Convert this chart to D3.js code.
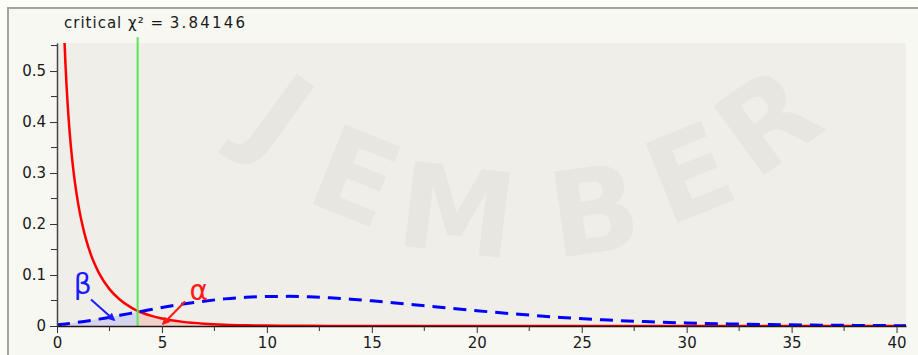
<!DOCTYPE html>
<html>
<head>
<meta charset="utf-8">
<script src="https://cdn.jsdelivr.net/npm/d3@7"></script>
<style>
  body { margin: 0; background: #fdfdf7; }
  svg { display: block; font-family: 'DejaVu Sans', Verdana, sans-serif; }
</style>
</head>
<body>
<svg id="canvas" width="918" height="355"></svg>
<script>
// central chi-square (H0, df = 1)
let redX = [0.35, 0.4, 0.5, 0.6, 0.7, 0.8, 0.9, 1.0, 1.1, 1.2, 1.4, 1.6, 1.8, 2.0, 2.5, 3.0, 3.5, 3.84146, 4.0, 4.5, 5.0, 6.0, 7.0, 8.0, 9.0, 10, 12, 14, 16, 20, 30, 40.45]
let redY = [0.566, 0.5165, 0.4394, 0.3815, 0.336, 0.299, 0.2681, 0.242, 0.2194, 0.1999, 0.1674, 0.1417, 0.1209, 0.1038, 0.0723, 0.0514, 0.0371, 0.0298, 0.027, 0.0198, 0.0146, 0.0081, 0.0046, 0.0026, 0.0015, 0.00085, 0.00029, 0.0001, 0.00003, 0, 0, 0]

// noncentral chi-square (H1)
let blueX = [0, 0.5, 1, 2, 3, 3.84146, 4, 5, 6, 7, 8, 9, 10, 11, 12, 13, 14, 15, 16, 17, 18, 19, 20, 22, 24, 26, 28, 30, 32, 34, 36, 38, 40, 40.45]
let blueY = [0.0025, 0.0046, 0.0072, 0.0135, 0.0209, 0.0274, 0.0286, 0.0362, 0.043, 0.0487, 0.0532, 0.0562, 0.0578, 0.0581, 0.0572, 0.0553, 0.0526, 0.0493, 0.0457, 0.0417, 0.0378, 0.0338, 0.03, 0.023, 0.0168, 0.0121, 0.0086, 0.006, 0.0041, 0.0027, 0.0018, 0.0012, 0.0007, 0.0006]

let critical = 3.84146

let xMajor = [0, 5, 10, 15, 20, 25, 30, 35, 40]
let xMinor = [2.5, 7.5, 12.5, 17.5, 22.5, 27.5, 32.5, 37.5]
let yMajor = [0, 0.1, 0.2, 0.3, 0.4, 0.5]
let yMinor = [0.05, 0.15, 0.25, 0.35, 0.45, 0.55]
let yTickLabels = ['0', '0.1', '0.2', '0.3', '0.4', '0.5']

// greek labels + arrows, in data units
let greekLabels = ['β', 'α']
let labelX = [1.22, 6.75]
let labelY = [0.082, 0.07]
let arrowFromX = [1.62, 6.1]
let arrowFromY = [0.052, 0.048]
let arrowToX = [2.72, 5.05]
let arrowToY = [0.012, 0.004]

let watermark = ['J', 'E', 'M', 'B', 'E', 'R']
let wmX = [255, 340, 452, 600, 705, 792]
let wmY = [150, 215, 252, 252, 212, 155]
let wmRot = [36, 22, 7, -8, -22, -36]

let canvas = d3.select('#canvas')

let plotLeft = 57, plotRight = 906, plotTop = 43, plotBottom = 326

let x = d3.scaleLinear().domain([0, 40.45]).range([plotLeft, plotRight])
let y = d3.scaleLinear().domain([0, 0.555]).range([plotBottom, plotTop])

let red = redX.map((d, i) => ({x: d, y: redY[i]}))
let blue = blueX.map((d, i) => ({x: d, y: blueY[i]}))

// frame
canvas.append('rect')
    .attr('x', 8).attr('y', 8).attr('width', 930).attr('height', 360)
    .attr('fill', '#f8f8f3')
    .attr('stroke', '#a3a3a0')
    .attr('stroke-width', 2)

canvas.append('rect')
    .attr('x', plotLeft).attr('y', plotTop)
    .attr('width', plotRight - plotLeft).attr('height', plotBottom - plotTop)
    .attr('fill', '#efeee9')

// faint watermark
canvas.append('g').selectAll('text')
    .data(watermark)
    .enter()
    .append('text')
    .attr('transform', (d, i) => `translate(${wmX[i]},${wmY[i]}) rotate(${wmRot[i]})`)
    .attr('text-anchor', 'middle')
    .attr('font-size', 118)
    .attr('font-weight', 'bold')
    .attr('fill', '#000')
    .attr('fill-opacity', 0.03)
    .text(d => d)

canvas.append('clipPath').attr('id', 'clip')
    .append('rect')
    .attr('x', plotLeft).attr('y', plotTop)
    .attr('width', plotRight - plotLeft).attr('height', plotBottom - plotTop)

let plot = canvas.append('g').attr('clip-path', 'url(#clip)')

let area = d3.area()
    .x(d => x(d.x))
    .y0(y(0))
    .y1(d => y(d.y))
    .curve(d3.curveMonotoneX)

let line = d3.line()
    .x(d => x(d.x))
    .y(d => y(d.y))
    .curve(d3.curveMonotoneX)

plot.append('path')
    .datum(blue.filter(d => d.x <= critical))
    .attr('d', area)
    .attr('fill', '#7070ff')
    .attr('fill-opacity', 0.2)

plot.append('path')
    .datum(red.filter(d => d.x >= critical))
    .attr('d', area)
    .attr('fill', '#ff6a5a')
    .attr('fill-opacity', 0.22)

plot.append('path')
    .datum(red)
    .attr('d', line)
    .attr('fill', 'none')
    .attr('stroke', '#ff0000')
    .attr('stroke-width', 2.5)

plot.append('path')
    .datum(blue)
    .attr('d', line)
    .attr('fill', 'none')
    .attr('stroke', '#0000ff')
    .attr('stroke-width', 3)
    .attr('stroke-dasharray', '13,8')

// critical value line
canvas.append('line')
    .attr('x1', x(critical)).attr('x2', x(critical))
    .attr('y1', plotTop - 6).attr('y2', y(0))
    .attr('stroke', '#55e855')
    .attr('stroke-width', 2)

let title = canvas.append('text')
    .attr('x', 64).attr('y', 28)
    .attr('font-size', 15)
    .attr('letter-spacing', 1)
    .attr('fill', '#1a1a1a')
    .style('white-space', 'pre')
title.append('tspan').text('critical χ² = ')
title.append('tspan').attr('letter-spacing', 2.2).text(critical)

// axes
let xAxis = canvas.append('g')
    .attr('transform', `translate(0,${plotBottom})`)
    .call(d3.axisBottom(x).tickValues(xMajor).tickSize(7).tickSizeOuter(0).tickPadding(4).tickFormat(d3.format('d')))
xAxis.select('.domain').attr('stroke', '#2a1010').attr('stroke-width', 1.5)

xAxis.selectAll('.minor')
    .data(xMinor)
    .enter()
    .append('line')
    .attr('class', 'minor')
    .attr('x1', d => x(d)).attr('x2', d => x(d))
    .attr('y1', 0).attr('y2', 5)
    .attr('stroke', '#333')

let yAxis = canvas.append('g')
    .attr('transform', `translate(${plotLeft},0)`)
    .call(d3.axisLeft(y).tickValues(yMajor).tickSize(7).tickSizeOuter(0).tickPadding(4).tickFormat((d, i) => yTickLabels[i]))
yAxis.select('.domain').attr('stroke', '#444').attr('stroke-width', 1.5)

yAxis.selectAll('.minor')
    .data(yMinor)
    .enter()
    .append('line')
    .attr('class', 'minor')
    .attr('x1', -6).attr('x2', 0)
    .attr('y1', d => y(d)).attr('y2', d => y(d))
    .attr('stroke', '#333')

canvas.selectAll('.tick line').attr('stroke', '#333')
canvas.selectAll('.tick text')
    .attr('font-size', 15)
    .attr('font-family', "'DejaVu Sans', Verdana, sans-serif")
    .attr('fill', '#1a1a1a')

// beta / alpha annotations
let colors = ['#1a1aff', '#ff1a1a']

canvas.append('defs').selectAll('marker')
    .data(colors)
    .enter()
    .append('marker')
    .attr('id', (d, i) => 'head' + i)
    .attr('viewBox', '0 0 10 10')
    .attr('refX', 8).attr('refY', 5)
    .attr('markerWidth', 4).attr('markerHeight', 4)
    .attr('orient', 'auto')
    .append('path')
    .attr('d', 'M0,0L10,5L0,10z')
    .attr('fill', d => d)

canvas.append('g').selectAll('line')
    .data(greekLabels)
    .enter()
    .append('line')
    .attr('x1', (d, i) => x(arrowFromX[i]))
    .attr('y1', (d, i) => y(arrowFromY[i]))
    .attr('x2', (d, i) => x(arrowToX[i]))
    .attr('y2', (d, i) => y(arrowToY[i]))
    .attr('stroke', (d, i) => colors[i])
    .attr('stroke-width', 2)
    .attr('marker-end', (d, i) => `url(#head${i})`)

canvas.append('g').selectAll('text')
    .data(greekLabels)
    .enter()
    .append('text')
    .attr('x', (d, i) => x(labelX[i]))
    .attr('y', (d, i) => y(labelY[i]))
    .attr('text-anchor', 'middle')
    .attr('dominant-baseline', 'central')
    .attr('font-size', 28)
    .attr('fill', (d, i) => colors[i])
    .text(d => d)
</script>
</body>
</html>
